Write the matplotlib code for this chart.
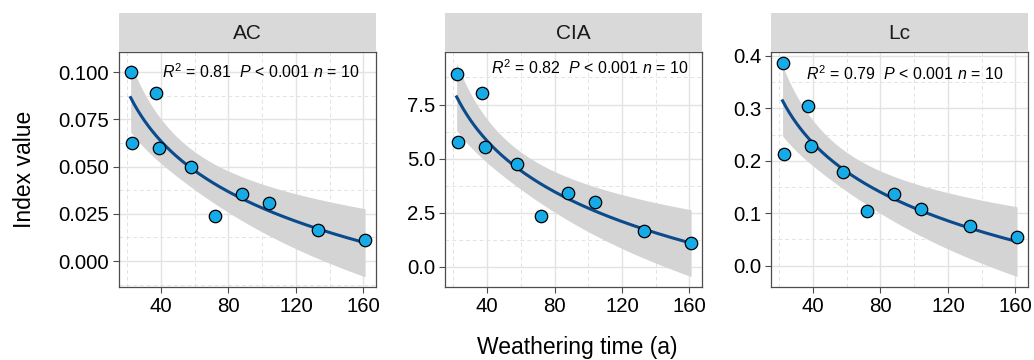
import matplotlib
matplotlib.use("Agg")
import matplotlib.pyplot as plt
import numpy as np
from matplotlib.ticker import MultipleLocator

plt.rcParams["font.family"] = ["Liberation Sans", "DejaVu Sans"]
plt.rcParams["mathtext.fontset"] = "custom"
plt.rcParams["mathtext.rm"] = "Liberation Sans"
plt.rcParams["mathtext.it"] = "Liberation Sans:italic"

# Datos
tiempo = [22, 23, 37, 39, 58, 72, 88, 104, 133, 161]
ac = [0.100, 0.0622, 0.0887, 0.0599, 0.0500, 0.0238, 0.0356, 0.0306, 0.0165, 0.0109]
cia = [8.93, 5.77, 8.01, 5.54, 4.73, 2.34, 3.42, 2.97, 1.65, 1.11]
lc = [0.387, 0.2136, 0.305, 0.229, 0.179, 0.104, 0.137, 0.1077, 0.0758, 0.0542]

paneles = ["AC", "CIA", "Lc"]
series = [ac, cia, lc]
etiquetas = ["$R^2$ = 0.81  $P$ < 0.001 $n$ = 10",
             "$R^2$ = 0.82  $P$ < 0.001 $n$ = 10",
             "$R^2$ = 0.79  $P$ < 0.001 $n$ = 10"]
y_lims = [(-0.0137, 0.1106), (-0.94, 9.93), (-0.0407, 0.4076)]
y_mayor = [0.025, 2.5, 0.1]
texto_pos = [(0.552, 0.916), (0.562, 0.932), (0.521, 0.906)]

fig = plt.figure(figsize=(10.34, 3.6), dpi=100)

izq = [0.1151, 0.4304, 0.7456]
ancho = 0.2486
abajo = 0.2028
alto = 0.6528
alto_tira = 0.1083

x = np.array(tiempo, dtype=float)
lx = np.log(x)
n = len(x)
t_crit = 2.306  # t(0.975, df=8)

for i in range(3):
    y = np.array(series[i])
    ax = fig.add_axes([izq[i], abajo, ancho, alto])

    # ajuste y = a + b ln(x) con banda de confianza del 95 %
    b, a = np.polyfit(lx, y, 1)
    resid = y - (a + b * lx)
    s = np.sqrt(np.sum(resid**2) / (n - 2))
    sxx = np.sum((lx - lx.mean()) ** 2)
    xf = np.linspace(x.min(), x.max(), 200)
    lf = np.log(xf)
    yf = a + b * lf
    se = s * np.sqrt(1 / n + (lf - lx.mean()) ** 2 / sxx)

    ax.fill_between(xf, yf - t_crit * se, yf + t_crit * se, color="#d4d4d4",
                    linewidth=0, zorder=2)
    ax.plot(xf, yf, color="#0b4a8b", linewidth=2.2, zorder=3)
    ax.scatter(x, y, s=80, color="#16aae6", edgecolor="black", linewidth=0.9,
               zorder=4)

    ax.set_xlim(15.1, 167.5)
    ax.set_ylim(*y_lims[i])
    ax.xaxis.set_major_locator(MultipleLocator(40))
    ax.xaxis.set_minor_locator(MultipleLocator(20))
    ax.yaxis.set_major_locator(MultipleLocator(y_mayor[i]))
    ax.yaxis.set_minor_locator(MultipleLocator(y_mayor[i] / 2))
    if i == 0:
        ax.yaxis.set_major_formatter(matplotlib.ticker.FormatStrFormatter("%.3f"))
    else:
        ax.yaxis.set_major_formatter(matplotlib.ticker.FormatStrFormatter("%.1f"))

    ax.grid(True, which="major", color="#e3e3e3", linewidth=1.0, zorder=0)
    ax.grid(True, which="minor", color="#e3e3e3", linewidth=0.7,
            linestyle=(0, (4, 3)), zorder=0)
    ax.set_axisbelow(True)
    ax.tick_params(which="major", direction="out", length=4, width=0.8,
                   color="#4d4d4d", labelsize=14.7, labelcolor="black", pad=3)
    ax.tick_params(which="minor", length=0)
    for sp in ax.spines.values():
        sp.set_color("#4d4d4d")
        sp.set_linewidth(0.9)

    ax.text(texto_pos[i][0], texto_pos[i][1], etiquetas[i], transform=ax.transAxes,
            ha="center", va="center", fontsize=11.5, zorder=5)

    tira = fig.add_axes([izq[i], abajo + alto, ancho, alto_tira])
    tira.set_facecolor("#d9d9d9")
    tira.set_xticks([])
    tira.set_yticks([])
    for sp in tira.spines.values():
        sp.set_visible(False)
    tira.text(0.5, 0.48, paneles[i], ha="center", va="center", fontsize=15,
              color="#1a1a1a")

fig.text(0.558, 0.035, "Weathering time (a)", ha="center", va="center", fontsize=16.5)
fig.text(0.024, 0.53, "Index value", ha="center", va="center", rotation=90,
         fontsize=16.5)

fig.savefig("out.png", dpi=100)
